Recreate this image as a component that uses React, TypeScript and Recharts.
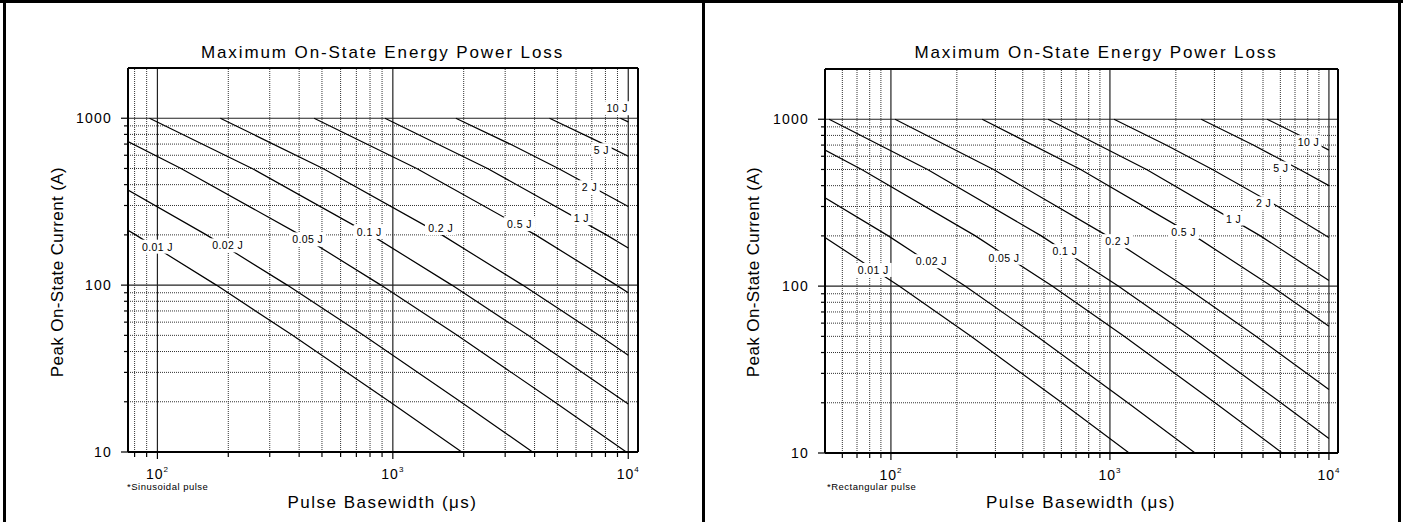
import React from 'react';
import { ComposedChart, Line, Scatter, XAxis, YAxis, ReferenceLine } from 'recharts';

const FONT = '"Liberation Sans", Arial, Helvetica, sans-serif';

const energyLabels = ['0.01 J', '0.02 J', '0.05 J', '0.1 J', '0.2 J', '0.5 J', '1 J', '2 J', '5 J', '10 J'];

// sinusoidal pulse curves: [basewidth (us), peak current (A)]
const sin001 = [[75, 213], [80.8, 200], [178, 100], [375, 50], [970, 20], [1962, 10]];
const sin002 = [[75, 371], [161.5, 200], [356, 100], [751, 50], [1940, 20], [3923, 10]];
const sin005 = [[75, 724], [126, 500], [404, 200], [890, 100], [1877, 50], [4850, 20], [9809, 10]];
const sin01 = [[92.6, 1000], [252.5, 500], [807.5, 200], [1781, 100], [3754, 50], [10000, 19.4]];
const sin02 = [[185, 1000], [505, 500], [1615, 200], [3561, 100], [7508, 50], [10000, 38]];
const sin05 = [[463, 1000], [1263, 500], [4038, 200], [8903, 100], [10000, 89.9]];
const sin1 = [[926, 1000], [2525, 500], [8075, 200], [10000, 166.7]];
const sin2 = [[1852, 1000], [3149, 700], [5050, 500], [10000, 296]];
const sin5 = [[4630, 1000], [7874, 700], [10000, 592]];
const sin10 = [[9259, 1000], [10000, 951]];
const sinLabelPos = [[100, 170], [199, 173], [435, 188], [794, 208], [1597, 220], [3451, 232], [6322, 252], [6843, 386], [7691, 643], [8977, 1148]];

// rectangular pulse curves
const rect001 = [[50, 195.5], [109, 100], [232, 50], [604, 20], [1224, 10]];
const rect002 = [[50, 338], [97.3, 200], [218, 100], [464, 50], [1207, 20], [2448, 10]];
const rect005 = [[50, 653], [73.5, 500], [243, 200], [545, 100], [1161, 50], [3019, 20], [6119, 10]];
const rect01 = [[52.2, 1000], [147, 500], [486, 200], [1091, 100], [2322, 50], [6037, 20], [10000, 12.2]];
const rect02 = [[104.4, 1000], [294, 500], [973, 200], [2181, 100], [4643, 50], [10000, 24]];
const rect05 = [[261, 1000], [735, 500], [2432, 200], [5453, 100], [10000, 57.5]];
const rect1 = [[522, 1000], [1470, 500], [4864, 200], [10000, 108]];
const rect2 = [[1044, 1000], [1805, 700], [2939, 500], [5853, 300], [10000, 195.5]];
const rect5 = [[2610, 1000], [4512, 700], [7348, 500], [10000, 400]];
const rect10 = [[5219, 1000], [9024, 700], [10000, 653]];
const rectLabelPos = [[83, 125], [153, 141], [328, 148], [623, 162], [1084, 186], [2170, 211], [3673, 254], [5035, 313], [6026, 507], [8072, 728]];

const yMajor = [10, 100, 1000];
const yMinor = [20, 30, 40, 50, 60, 70, 80, 90, 200, 300, 400, 500, 600, 700, 800, 900];
const xMajor = [100, 1000, 10000];
const xMinorSin = [80, 90, 200, 300, 400, 500, 600, 700, 800, 900, 2000, 3000, 4000, 5000, 6000, 7000, 8000, 9000];
const xMinorRect = [60, 70, 80, 90, 200, 300, 400, 500, 600, 700, 800, 900, 2000, 3000, 4000, 5000, 6000, 7000, 8000, 9000];

const isDecade = (v: number) => Math.abs(Math.log10(v) - Math.round(Math.log10(v))) < 1e-9;

const YTick = (props: any) => {
  const { x, y, payload } = props;
  const major = isDecade(payload.value);
  return (
    <g>
      <line x1={x - (major ? 7 : 4)} x2={x} y1={y} y2={y} stroke="#000" strokeWidth={1.2} />
      {major && (
        <text x={x - 16} y={y} textAnchor="end" dominantBaseline="central" fontSize={14} letterSpacing={1.2} fontFamily={FONT} fill="#000">
          {payload.value}
        </text>
      )}
    </g>
  );
};

const XTick = (props: any) => {
  const { x, y, payload } = props;
  const major = isDecade(payload.value);
  const exp = Math.round(Math.log10(payload.value));
  return (
    <g>
      <line x1={x} x2={x} y1={y} y2={y + (major ? 7 : 5)} stroke="#000" strokeWidth={1.2} />
      {major && (
        <text x={x} y={y + 27} textAnchor="middle" fontSize={14} letterSpacing={1} fontFamily={FONT} fill="#000">
          10
          <tspan dy={-7} fontSize={8}>{exp}</tspan>
        </text>
      )}
    </g>
  );
};

const EnergyTag = (props: any) => {
  const { cx, cy, payload } = props;
  const w = payload.text.length * 5.5 + 4;
  return (
    <g>
      <rect x={cx - w / 2} y={cy - 7} width={w} height={14} fill="#fff" />
      <text x={cx} y={cy} textAnchor="middle" dominantBaseline="central" fontSize={10.5} letterSpacing={0.4} fontFamily={FONT} fill="#000">
        {payload.text}
      </text>
    </g>
  );
};

interface PanelProps {
  left: number;
  curves: number[][][];
  labelPos: number[][];
  xDomain: [number, number];
  xMinor: number[];
  margin: { top: number; right: number; bottom: number; left: number };
}

const Panel = ({ left, curves, labelPos, xDomain, xMinor, margin }: PanelProps) => {
  const tags = labelPos.map(([t, i], k) => ({ t, i, text: energyLabels[k] }));
  const xTicks = [...xMinor, ...xMajor].sort((a, b) => a - b);
  const yTicks = [...yMinor, ...yMajor].sort((a, b) => a - b);
  return (
    <div style={{ position: 'absolute', left, top: 0, width: 700, height: 522 }}>
      <ComposedChart width={700} height={522} margin={margin}>
        <XAxis
          type="number"
          dataKey="t"
          scale="log"
          domain={xDomain}
          allowDataOverflow
          ticks={xTicks}
          interval={0}
          tickSize={0}
          tickMargin={0}
          tickLine={false}
          tick={<XTick />}
          axisLine={{ stroke: '#000', strokeWidth: 2 }}
          height={30}
        />
        <YAxis
          type="number"
          scale="log"
          domain={[10, 2000]}
          allowDataOverflow
          ticks={yTicks}
          interval={0}
          tickSize={0}
          tickMargin={0}
          tickLine={false}
          tick={<YTick />}
          axisLine={{ stroke: '#000', strokeWidth: 2 }}
          width={60}
        />
        {xMinor.map((v) => (
          <ReferenceLine key={`vx${v}`} x={v} stroke="#333" strokeWidth={1} strokeDasharray="1 1" />
        ))}
        {yMinor.map((v) => (
          <ReferenceLine key={`hy${v}`} y={v} stroke="#333" strokeWidth={1} strokeDasharray="1 1" />
        ))}
        {xMajor.map((v) => (
          <ReferenceLine key={`VX${v}`} x={v} stroke="#222" strokeWidth={1.2} />
        ))}
        {[100, 1000].map((v) => (
          <ReferenceLine key={`HY${v}`} y={v} stroke="#222" strokeWidth={1.2} />
        ))}
        {curves.map((pts, k) => (
          <Line
            key={energyLabels[k]}
            data={pts.map(([t, i]) => ({ t, i }))}
            dataKey="i"
            type="linear"
            stroke="#000"
            strokeWidth={1.2}
            dot={false}
            activeDot={false}
            isAnimationActive={false}
          />
        ))}
        <Scatter data={tags} dataKey="i" shape={EnergyTag} isAnimationActive={false} />
        <ReferenceLine y={2000} stroke="#000" strokeWidth={2} />
        <ReferenceLine x={xDomain[1]} stroke="#000" strokeWidth={2} />
      </ComposedChart>
    </div>
  );
};

const textStyle = { fontFamily: FONT, fill: '#000' };

export default function App() {
  return (
    <div style={{ position: 'absolute', left: 0, top: 0, width: 1403, height: 522, background: '#fff' }}>
      <svg width={1403} height={522} style={{ position: 'absolute', left: 0, top: 0 }}>
        <rect x={0} y={0} width={1403} height={3} fill="#000" />
        <rect x={3} y={0} width={3} height={522} fill="#000" />
        <rect x={702} y={0} width={3} height={522} fill="#000" />
        <rect x={1398} y={0} width={3} height={522} fill="#000" />

        <text x={382.5} y={58} textAnchor="middle" fontSize={17} letterSpacing={1.9} {...textStyle}>
          Maximum On-State Energy Power Loss
        </text>
        <text x={1096} y={58} textAnchor="middle" fontSize={17} letterSpacing={1.9} {...textStyle}>
          Maximum On-State Energy Power Loss
        </text>

        <text transform="translate(57 272) rotate(-90)" textAnchor="middle" dominantBaseline="central" fontSize={17} letterSpacing={0.4} {...textStyle}>
          Peak On-State Current (A)
        </text>
        <text transform="translate(753 272) rotate(-90)" textAnchor="middle" dominantBaseline="central" fontSize={17} letterSpacing={0.4} {...textStyle}>
          Peak On-State Current (A)
        </text>

        <text x={382.5} y={508} textAnchor="middle" fontSize={17} letterSpacing={1.5} {...textStyle}>
          Pulse Basewidth (μs)
        </text>
        <text x={1081} y={508} textAnchor="middle" fontSize={17} letterSpacing={1.5} {...textStyle}>
          Pulse Basewidth (μs)
        </text>

        <text x={127} y={490} fontSize={9.5} letterSpacing={0.5} {...textStyle}>
          *Sinusoidal pulse
        </text>
        <text x={827} y={490} fontSize={9.5} letterSpacing={0.5} {...textStyle}>
          *Rectangular pulse
        </text>
      </svg>

      <Panel
        left={0}
        curves={[sin001, sin002, sin005, sin01, sin02, sin05, sin1, sin2, sin5, sin10]}
        labelPos={sinLabelPos}
        xDomain={[75, 11000]}
        xMinor={xMinorSin}
        margin={{ top: 68, right: 62, bottom: 40, left: 68 }}
      />
      <Panel
        left={702}
        curves={[rect001, rect002, rect005, rect01, rect02, rect05, rect1, rect2, rect5, rect10]}
        labelPos={rectLabelPos}
        xDomain={[50, 11000]}
        xMinor={xMinorRect}
        margin={{ top: 69, right: 64, bottom: 39, left: 63 }}
      />
    </div>
  );
}
